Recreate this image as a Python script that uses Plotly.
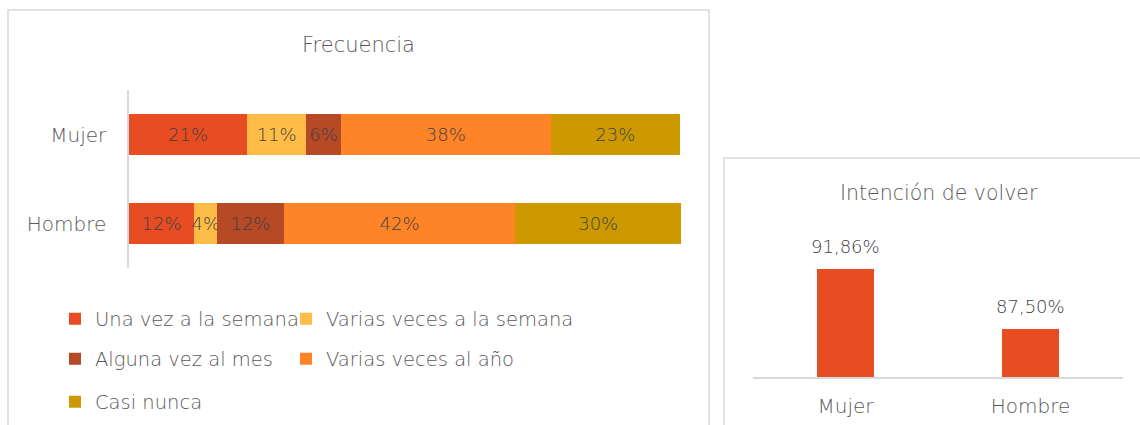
import plotly.graph_objects as go

# ---- data ----
groups = ["Mujer", "Hombre"]
freq_categories = ["Una vez a la semana", "Varias veces a la semana", "Alguna vez al mes",
                   "Varias veces al año", "Casi nunca"]
freq_mujer = [21.4, 10.7, 6.3, 38.0, 23.4]
freq_hombre = [11.8, 4.2, 12.0, 42.0, 30.0]
freq_colors = ["#E84C22", "#FFBD47", "#B64926", "#FF8427", "#CC9900"]

intent_values = [91.86, 87.50]

W, H = 1140, 425
FONT = "DejaVu Sans"
WT = 300
TXT = "#595959"
LBL = "#404040"
GRID = "#D9D9D9"


def px(x):
    return x / W


def py(y):
    return 1 - y / H


fig = go.Figure()

legend_pos = [(55, 319), (286, 319), (55, 359), (286, 359), (55, 402)]
for i, (name, color) in enumerate(zip(freq_categories, freq_colors)):
    lname = "legend" if i == 0 else f"legend{i+1}"
    fig.add_trace(go.Bar(
        y=groups, x=[freq_mujer[i], freq_hombre[i]], name=name, orientation="h",
        marker=dict(color=color, line=dict(width=0)),
        texttemplate="%{x:.0f}%", textangle=0,
        textposition="inside", insidetextanchor="middle", constraintext="none",
        textfont=dict(family=FONT, size=18, color=LBL, weight=WT),
        legend=lname, xaxis="x", yaxis="y", hoverinfo="skip",
    ))

fig.add_trace(go.Bar(
    x=groups, y=intent_values, marker=dict(color="#E84C22", line=dict(width=0)),
    width=0.31, showlegend=False, xaxis="x2", yaxis="y2", hoverinfo="skip",
))

layout_legends = {}
for i, (lx, ly) in enumerate(legend_pos):
    key = "legend" if i == 0 else f"legend{i+1}"
    layout_legends[key] = dict(
        x=px(lx), y=py(ly), xanchor="left", yanchor="middle",
        font=dict(family=FONT, size=19.5, color=TXT, weight=WT), bgcolor="rgba(0,0,0,0)",
        borderwidth=0,
    )

annotations = [
    dict(text="Frecuencia", x=px(358), y=py(45), xref="paper", yref="paper",
         xanchor="center", yanchor="middle", showarrow=False,
         font=dict(family=FONT, size=21, color=TXT, weight=WT)),
    dict(text="Intención de volver", x=px(939), y=py(193), xref="paper", yref="paper",
         xanchor="center", yanchor="middle", showarrow=False,
         font=dict(family=FONT, size=20.5, color=TXT, weight=WT)),
]
for g, v in zip(groups, intent_values):
    annotations.append(dict(
        text=f"{v:.2f}".replace(".", ",") + "%", x=g, y=v, xref="x2", yref="y2",
        xanchor="center", yanchor="bottom", yshift=10, showarrow=False,
        font=dict(family=FONT, size=18, color=LBL, weight=WT)))

shapes = [
    dict(type="rect", xref="paper", yref="paper", x0=px(8), x1=px(709), y0=py(10), y1=-0.1,
         line=dict(color=GRID, width=1.5), layer="below"),
    dict(type="rect", xref="paper", yref="paper", x0=px(724), x1=1.1, y0=py(158), y1=-0.1,
         line=dict(color=GRID, width=1.5), layer="below"),
]

fig.update_layout(
    width=W, height=H, margin=dict(l=0, r=0, t=0, b=0),
    paper_bgcolor="white", plot_bgcolor="rgba(0,0,0,0)",
    barmode="stack", bargap=0.53, separators=",.",
    font=dict(family=FONT, color=TXT, weight=WT),
    xaxis=dict(domain=[px(129), px(681)], range=[0, 100], visible=False, fixedrange=True),
    yaxis=dict(domain=[py(268), py(90)], categoryorder="array", categoryarray=groups[::-1],
               showline=True, linecolor=GRID, linewidth=1.5, showgrid=False, ticks="",
               ticklabelstandoff=17, tickfont=dict(family=FONT, size=20, color=TXT, weight=WT),
               anchor="x", zeroline=False),
    xaxis2=dict(domain=[px(753), px(1123)], showline=True, linecolor=GRID, linewidth=1.5,
                ticks="", tickfont=dict(family=FONT, size=20, color=TXT, weight=WT),
                ticklabelstandoff=10, anchor="y2"),
    yaxis2=dict(domain=[py(377), py(239)], range=[84, 94], visible=False, anchor="x2"),
    annotations=annotations, shapes=shapes, showlegend=True,
    **layout_legends,
)

fig.write_html("out.html", post_script="document.body.style.margin='0';",
               config={"displayModeBar": False})
